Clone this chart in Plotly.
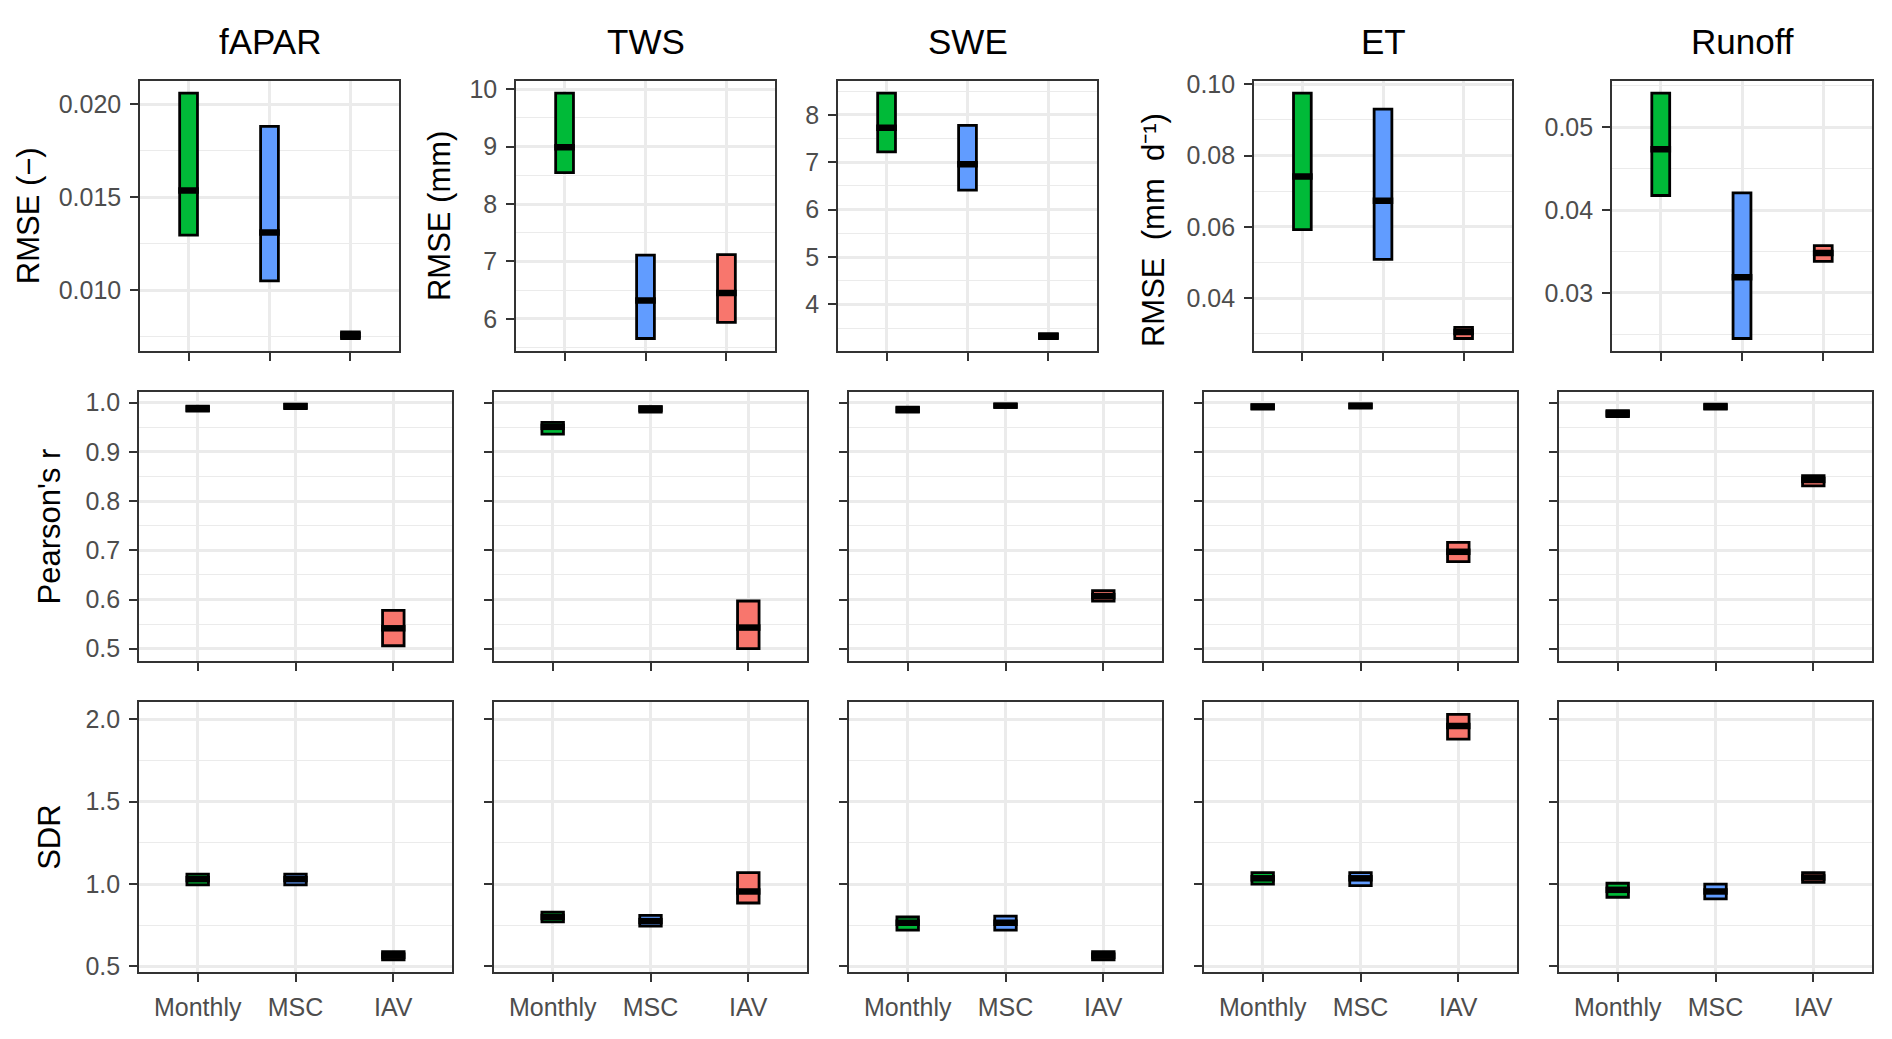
import plotly.graph_objects as go

# Figure data: one box (q1 / median / q3) per variable and time scale
variables = ["fAPAR", "TWS", "SWE", "ET", "Runoff"]
scales = ["Monthly", "MSC", "IAV"]
fills = ["#00BA38", "#619CFF", "#F8766D"]

# RMSE, per variable: [Monthly, MSC, IAV]
rmse_lo = [[0.01297, 0.01051, 0.00741], [8.545, 5.66, 5.94], [7.22, 6.41, 3.28],
           [0.0592, 0.0509, 0.0287], [0.04176, 0.02447, 0.0338]]
rmse_med = [[0.01536, 0.01311, 0.00758], [8.99, 6.32, 6.45], [7.73, 6.96, 3.33],
            [0.0741, 0.0673, 0.0305], [0.04736, 0.03189, 0.0348]]
rmse_hi = [[0.0206, 0.01881, 0.00776], [9.93, 7.11, 7.12], [8.46, 7.78, 3.38],
           [0.0975, 0.0930, 0.0318], [0.05414, 0.04207, 0.0357]]

# Pearson's r
r_lo = [[0.983, 0.988, 0.506], [0.936, 0.981, 0.500], [0.981, 0.991, 0.597],
        [0.987, 0.989, 0.677], [0.972, 0.987, 0.831]]
r_med = [[0.988, 0.993, 0.5415], [0.951, 0.988, 0.543], [0.986, 0.994, 0.607],
         [0.992, 0.994, 0.697], [0.978, 0.992, 0.843]]
r_hi = [[0.993, 0.997, 0.578], [0.960, 0.992, 0.597], [0.991, 0.997, 0.618],
        [0.996, 0.997, 0.716], [0.984, 0.997, 0.852]]

# SDR
sdr_lo = [[0.995, 0.995, 0.54], [0.77, 0.745, 0.885], [0.72, 0.72, 0.54],
          [1.0, 0.99, 1.88], [0.92, 0.91, 1.01]]
sdr_med = [[1.03, 1.03, 0.565], [0.80, 0.775, 0.955], [0.765, 0.765, 0.565],
           [1.035, 1.035, 1.96], [0.965, 0.955, 1.04]]
sdr_hi = [[1.06, 1.06, 0.59], [0.83, 0.81, 1.07], [0.80, 0.805, 0.59],
          [1.07, 1.07, 2.03], [1.005, 1.0, 1.07]]

rmse_titles = ["RMSE (\u2212)", "RMSE (mm)", None, None, None]
et_title = "RMSE  (mm  d\u207b\u00b9)"
rmse_dtick = [0.005, 1, 1, 0.02, 0.01]
rmse_fmt = [".3f", "d", "d", ".2f", ".2f"]

# page has an 8px body margin, so lay out in page pixels minus that offset
OFF_X, OFF_Y = 8, 9
W, H = 1892 - OFF_X, 1039 - OFF_Y
row1_x = [(140, 399), (516, 775), (838, 1097), (1254, 1512), (1612, 1872)]
grid_x = [(139, 452), (494, 807), (849, 1162), (1204, 1517), (1559, 1872)]
rows_y = [(72, 347), (389, 663), (705, 980)]
BOXW = 0.22
FONT = "Liberation Sans, Arial, sans-serif"
GRID = "#EBEBEB"
TICK_SIZE, TITLE_SIZE, HEAD_SIZE = 25, 31, 35


def padded(lo, hi):
    a, b = min(min(v) for v in lo), max(max(v) for v in hi)
    d = (b - a) * 0.05
    return [a - d, b + d]


def xdom(a, b):
    return [(a - OFF_X) / W, (b - OFF_X) / W]


def ydom(a, b):
    return [1 - (b - OFF_Y) / H, 1 - (a - OFF_Y) / H]


rows = [(rmse_lo, rmse_med, rmse_hi), (r_lo, r_med, r_hi), (sdr_lo, sdr_med, sdr_hi)]
shared = [None, padded(r_lo, r_hi), padded(sdr_lo, sdr_hi)]
title_font = dict(size=TITLE_SIZE, color="black", family=FONT)

fig = go.Figure()
layout = {}

for r, (lo, med, hi) in enumerate(rows):
    for c in range(5):
        idx = r * 5 + c + 1
        sfx = "" if idx == 1 else str(idx)
        x0, x1 = row1_x[c] if r == 0 else grid_x[c]
        y0, y1 = rows_y[r]

        bw_px = BOXW * (x1 - x0) / 3.2
        fig.add_trace(go.Bar(
            x=[1, 2, 3], y=[h - l for h, l in zip(hi[c], lo[c])], base=lo[c],
            width=BOXW, marker=dict(color=fills, line=dict(color="black", width=2.8)),
            xaxis="x" + sfx, yaxis="y" + sfx, hoverinfo="skip"))
        fig.add_trace(go.Scatter(
            x=[1, 2, 3], y=med[c], mode="markers",
            marker=dict(symbol="line-ew", size=(bw_px + 2.8) / 1.4,
                        line=dict(color="black", width=6.5)),
            xaxis="x" + sfx, yaxis="y" + sfx, hoverinfo="skip"))

        axis_common = dict(
            showline=True, mirror=True, linecolor="#333333", linewidth=1.6,
            ticks="outside", ticklen=8, tickwidth=2.2, tickcolor="#333333",
            ticklabelstandoff=4,
            tickfont=dict(size=TICK_SIZE, color="#4D4D4D", family=FONT),
            showgrid=True, gridcolor=GRID, gridwidth=2.6, zeroline=False)

        layout["xaxis" + sfx] = dict(
            axis_common, domain=xdom(x0, x1), anchor="y" + sfx,
            range=[0.4, 3.6], tickvals=[1, 2, 3], ticktext=scales,
            showticklabels=(r == 2))

        if r == 0:
            ya = dict(range=padded([lo[c]], [hi[c]]), dtick=rmse_dtick[c], tick0=0,
                      tickformat=rmse_fmt[c],
                      minor=dict(dtick=rmse_dtick[c] / 2, tick0=0, showgrid=True,
                                 gridcolor=GRID, gridwidth=1.4))
            if rmse_titles[c]:
                ya["title"] = dict(text=rmse_titles[c], standoff=10, font=title_font)
        elif r == 1:
            ya = dict(range=shared[1], dtick=0.1, tick0=0, tickformat=".1f",
                      minor=dict(dtick=0.05, tick0=0, showgrid=True,
                                 gridcolor=GRID, gridwidth=1.4),
                      showticklabels=(c == 0))
            if c == 0:
                ya["title"] = dict(text="Pearson's r", standoff=16, font=title_font)
        else:
            ya = dict(range=shared[2], dtick=0.5, tick0=0, tickformat=".1f",
                      minor=dict(dtick=0.25, tick0=0, showgrid=True,
                                 gridcolor=GRID, gridwidth=1.4),
                      showticklabels=(c == 0))
            if c == 0:
                ya["title"] = dict(text="SDR", standoff=16, font=title_font)
        layout["yaxis" + sfx] = dict(axis_common, domain=ydom(y0, y1),
                                     anchor="x" + sfx, **ya)

annotations = []
for c, name in enumerate(variables):
    x0, x1 = row1_x[c]
    annotations.append(dict(text=name, x=((x0 + x1) / 2 - OFF_X) / W,
                            y=1 - (32 - OFF_Y) / H,
                            xref="paper", yref="paper", showarrow=False,
                            xanchor="center", yanchor="middle",
                            font=dict(size=HEAD_SIZE, color="black", family=FONT)))

# ET axis title sits a little below the panel centre in the original
annotations.append(dict(text=et_title, x=(1153 - OFF_X) / W, y=1 - (224 - OFF_Y) / H,
                        xref="paper", yref="paper", showarrow=False, textangle=-90,
                        xanchor="center", yanchor="middle", font=title_font))

fig.update_layout(
    width=W, height=H, margin=dict(l=0, r=0, t=0, b=0),
    paper_bgcolor="white", plot_bgcolor="white", showlegend=False,
    font=dict(family=FONT), annotations=annotations, **layout)

fig.write_html("out.html")
